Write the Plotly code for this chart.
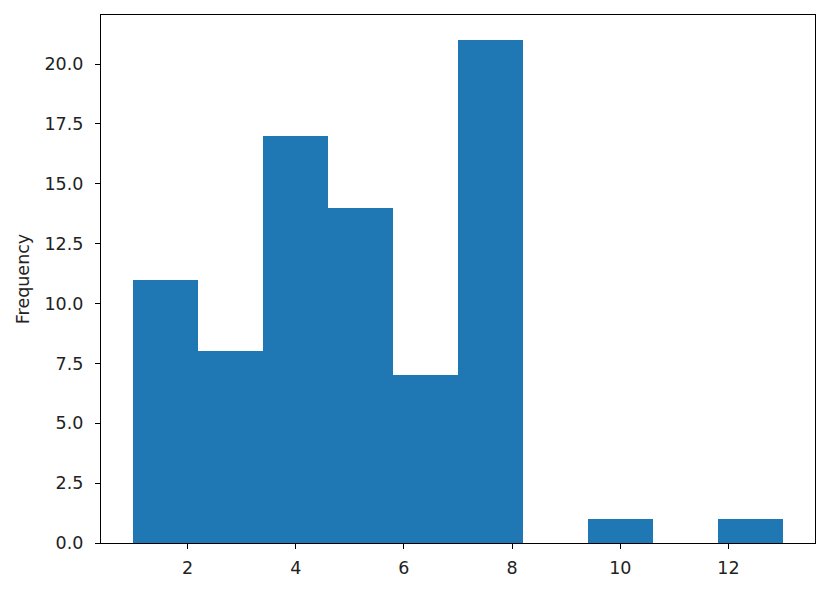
import plotly.graph_objects as go

bin_edges = [1.0, 2.2, 3.4, 4.6, 5.8, 7.0, 8.2, 9.4, 10.6, 11.8, 13.0]
counts = [11, 8, 17, 14, 7, 21, 0, 1, 0, 1]
y_label = "Frequency"

centers = [(a + b) / 2 for a, b in zip(bin_edges[:-1], bin_edges[1:])]
widths = [b - a for a, b in zip(bin_edges[:-1], bin_edges[1:])]

fig = go.Figure(go.Bar(x=centers, y=counts, width=widths,
                       marker=dict(color="#1f77b4", line=dict(width=0))))

axis_common = dict(showline=True, linecolor="black", linewidth=1.2, mirror=True,
                   ticks="outside", ticklen=5, tickcolor="black", tickwidth=1.2,
                   showgrid=False, zeroline=False,
                   tickfont=dict(family="DejaVu Sans", size=17.5, color="#222"))

fig.update_layout(
    width=830, height=592,
    margin=dict(l=93, r=23, t=7, b=57),
    plot_bgcolor="white", paper_bgcolor="white",
    bargap=0, showlegend=False,
    xaxis=dict(range=[0.4, 13.6], tickvals=[2, 4, 6, 8, 10, 12],
               ticklabelstandoff=4, **axis_common),
    yaxis=dict(range=[0, 22.05], dtick=2.5, tick0=0, tickformat=".1f",
               ticklabelstandoff=8,
               title=dict(text=y_label, font=dict(family="DejaVu Sans", size=17.5, color="#222"), standoff=10),
               **axis_common),
)

fig.write_html("out.html")
